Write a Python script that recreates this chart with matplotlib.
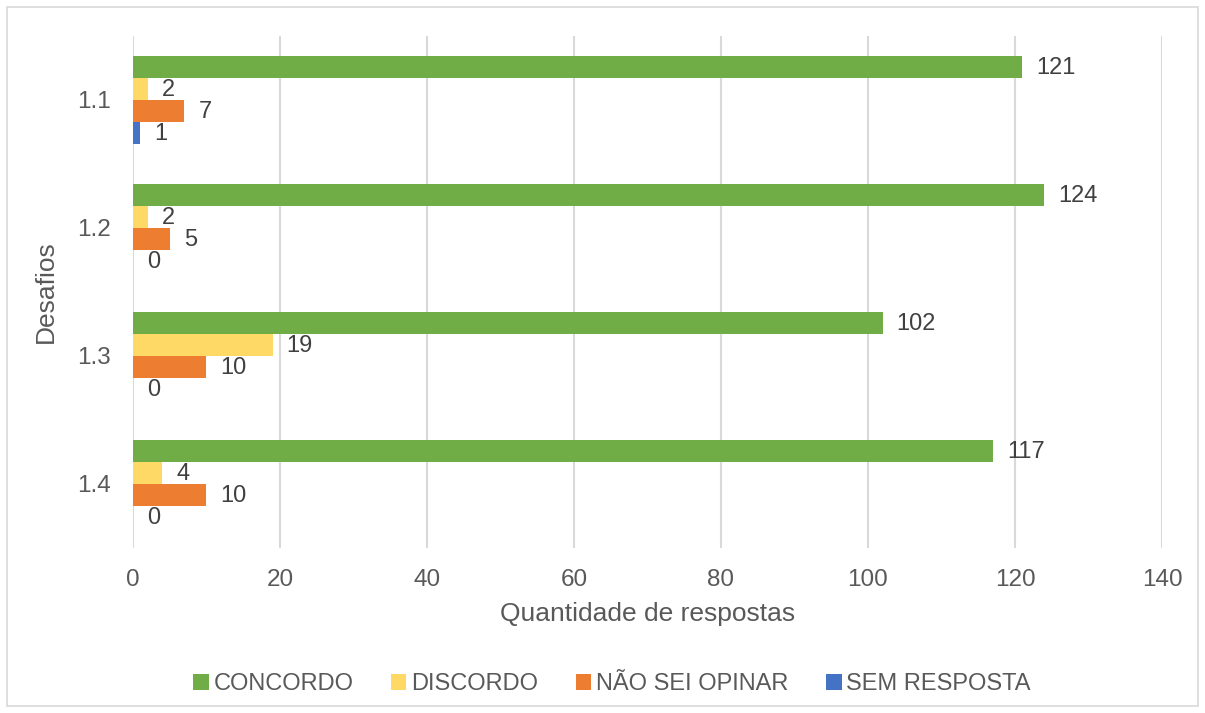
import matplotlib
matplotlib.use("Agg")
import matplotlib.pyplot as plt
from matplotlib.patches import Rectangle, Patch
import numpy as np

plt.rcParams['font.family'] = ['Liberation Sans', 'DejaVu Sans']

categories = ["1.1", "1.2", "1.3", "1.4"]
series_names = ["CONCORDO", "DISCORDO", "NÃO SEI OPINAR", "SEM RESPOSTA"]
concordo = [121, 124, 102, 117]
discordo = [2, 2, 19, 4]
nao_sei = [7, 5, 10, 10]
sem_resposta = [1, 0, 0, 0]
colors = ["#70AD47", "#FFD966", "#ED7D31", "#4472C4"]
xticks = [0, 20, 40, 60, 80, 100, 120, 140]

series = [concordo, discordo, nao_sei, sem_resposta]
text_color = "#595959"

fig = plt.figure(figsize=(12.05, 7.13), dpi=100)
ax = fig.add_axes([133/1205, 1 - 548/713, (1162-133)/1205, (548-36)/713])

y = np.arange(len(categories))
bar_h = 22/128
n = len(series)
for i, (vals, c) in enumerate(zip(series, colors)):
    pos = y + (i - (n - 1) / 2) * bar_h
    ax.barh(pos, vals, height=bar_h, color=c, edgecolor="none", zorder=3)
    for p, v in zip(pos, vals):
        ax.annotate(str(v), xy=(v, p), xytext=(10, -1), textcoords="offset points",
                    ha="left", va="center", fontsize=17, color="#404040")

ax.set_xlim(0, 140)
ax.set_ylim(3.5, -0.5)
ax.set_xticks(xticks)
ax.set_yticks(y)
ax.set_yticklabels(categories)
ax.tick_params(axis="both", length=0, labelsize=17.5, labelcolor=text_color)
ax.tick_params(axis="x", pad=15)
ax.tick_params(axis="y", pad=16)
ax.grid(axis="x", color="#D9D9D9", linewidth=1.5, zorder=0)
for s in ax.spines.values():
    s.set_visible(False)

ax.set_xlabel("Quantidade de respostas", fontsize=19, color=text_color, labelpad=8)
ax.set_ylabel("Desafios", fontsize=19, color=text_color, labelpad=14)

handles = [Patch(facecolor=c, edgecolor="none") for c in colors]
fig.legend(handles, series_names, loc="center", bbox_to_anchor=(612/1205, 1 - 684/713),
           ncol=4, frameon=False, fontsize=17, labelcolor=text_color,
           handlelength=0.65, handleheight=0.65, handletextpad=0.2, columnspacing=1.6)

fig.patches.append(Rectangle((7/1205, 7/713), (1198-7)/1205, (706-7)/713,
                             transform=fig.transFigure, fill=False,
                             edgecolor="#D9D9D9", linewidth=1.2))

fig.savefig("out.png", dpi=100)
